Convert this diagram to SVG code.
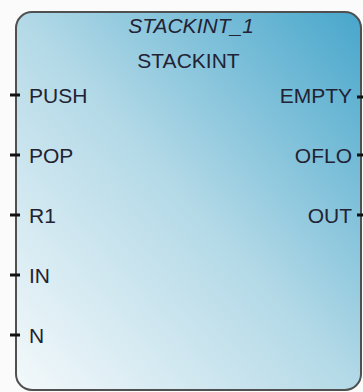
<svg xmlns="http://www.w3.org/2000/svg" width="363" height="392" viewBox="0 0 363 392">
<style>
.t{font-family:"Liberation Sans",Arial,sans-serif;font-size:21px;fill:#222233}
.i{font-style:italic}
.m{text-anchor:middle}
.e{text-anchor:end}
.pin{stroke:#111;stroke-width:3}
</style>
<defs>
<linearGradient id="g" x1="1" y1="0" x2="0" y2="1">
<stop offset="0" stop-color="#47a6cb"/>
<stop offset="0.5" stop-color="#b3d9e7"/>
<stop offset="1" stop-color="#f4f9fb"/>
</linearGradient>
</defs>
<rect width="363" height="392" fill="#fbfbfb"/>
<g id="block">
<rect x="16" y="12" width="345" height="378" rx="16" ry="16" fill="url(#g)" stroke="#505050" stroke-width="2"/>
<text class="t i m" x="191" y="33">STACKINT_1</text>
<text class="t m" x="188.5" y="68">STACKINT</text>
</g>
<g id="pins">
<line class="pin" x1="10" y1="95" x2="20" y2="95"/>
<line class="pin" x1="10" y1="155" x2="20" y2="155"/>
<line class="pin" x1="10" y1="215" x2="20" y2="215"/>
<line class="pin" x1="10" y1="275" x2="20" y2="275"/>
<line class="pin" x1="10" y1="335" x2="20" y2="335"/>
<line class="pin" x1="357" y1="97" x2="363" y2="97"/>
<line class="pin" x1="357" y1="155" x2="363" y2="155"/>
<line class="pin" x1="357" y1="215" x2="363" y2="215"/>
</g>
<g id="labels">
<text class="t" x="29" y="103">PUSH</text>
<text class="t" x="29" y="163">POP</text>
<text class="t" x="29" y="223">R1</text>
<text class="t" x="29" y="283">IN</text>
<text class="t" x="29" y="343">N</text>
<text class="t e" x="352" y="103">EMPTY</text>
<text class="t e" x="352" y="163">OFLO</text>
<text class="t e" x="352" y="223">OUT</text>
</g>
</svg>
